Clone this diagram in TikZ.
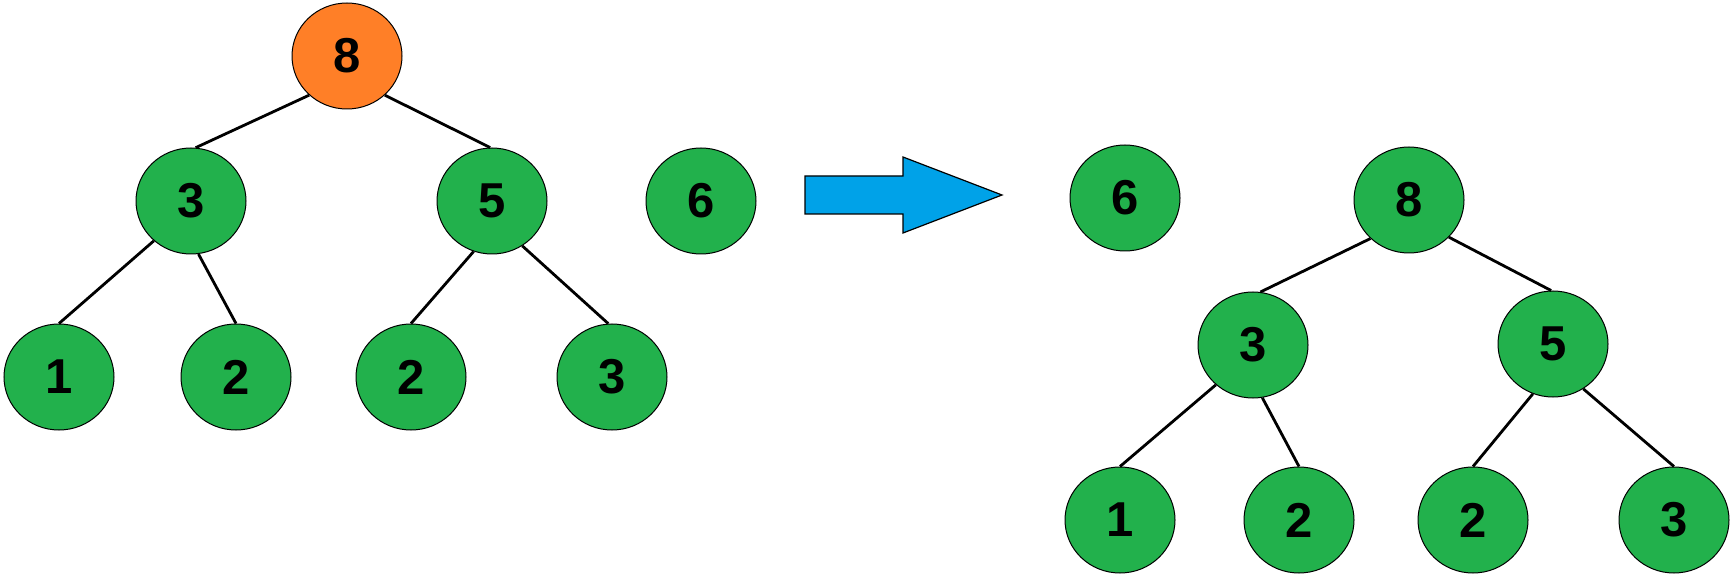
\documentclass[tikz,border=0pt]{standalone}
\usepackage{fontspec}
\setmainfont{Liberation Sans}
\usetikzlibrary{shapes.geometric}
\definecolor{hgreen}{HTML}{22B14C}
\definecolor{horange}{HTML}{FF7F27}
\definecolor{hblue}{HTML}{00A2E8}
\begin{document}
\begin{tikzpicture}[x=1pt,y=-1pt,
  hnode/.style={ellipse,draw=black,line width=1pt,fill=hgreen,minimum width=110pt,minimum height=106pt,inner sep=0pt,
    font=\fontsize{49}{50}\selectfont\bfseries},
  hroot/.style={hnode,fill=horange},
  hedge/.style={draw=black,line width=2.8pt}]
\useasboundingbox (0,0) rectangle (1732,577);
% left tree
\node[hroot] (L8) at (347,56) {8};
\node[hnode] (L3) at (191,201) {3};
\node[hnode] (L5) at (492,201) {5};
\node[hnode] (L6) at (701,201) {6};
\node[hnode] (L1) at (59,377) {1};
\node[hnode] (L2a) at (236,377) {2};
\node[hnode] (L2b) at (411,377) {2};
\node[hnode] (L3b) at (612,377) {3};
\draw[hedge] (L8.226) -- (L3.85);
\draw[hedge] (L8.314) -- (L5.92);
\draw[hedge] (L3.227) -- (L1.90);
\draw[hedge] (L3.278) -- (L2a.90);
\draw[hedge] (L5.250) -- (L2b.90);
\draw[hedge] (L5.304) -- (L3b.94);
% arrow
\path[fill=hblue,draw=black,line width=1.2pt,line join=miter]
  (805,176) -- (903,176) -- (903,157) -- (1002,195) -- (903,233) -- (903,214) -- (805,214) -- cycle;
% right tree
\node[hnode] (R6) at (1125,198) {6};
\node[hnode] (R8) at (1409,200) {8};
\node[hnode] (R3) at (1253,345) {3};
\node[hnode] (R5) at (1553,344) {5};
\node[hnode] (R1) at (1120,520) {1};
\node[hnode] (R2a) at (1299,520) {2};
\node[hnode] (R2b) at (1473,520) {2};
\node[hnode] (R3b) at (1674,520) {3};
\draw[hedge] (R8.225) -- (R3.82);
\draw[hedge] (R8.317) -- (R5.92);
\draw[hedge] (R3.227) -- (R1.90);
\draw[hedge] (R3.280) -- (R2a.90);
\draw[hedge] (R5.248) -- (R2b.90);
\draw[hedge] (R5.304) -- (R3b.90);
\end{tikzpicture}
\end{document}
